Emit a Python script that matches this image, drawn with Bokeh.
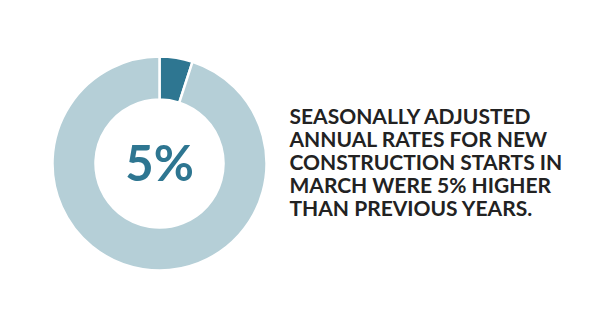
import math
from bokeh.plotting import figure
from bokeh.models import Range1d, ColumnDataSource
from bokeh.core.properties import value
from bokeh.embed import file_html
from bokeh.resources import INLINE

categories = ["Higher", "Rest"]
shares = [5, 95]
slice_colors = ["#2E7691", "#B5CFD7"]
center_label = "5%"
caption_lines = [
    "SEASONALLY ADJUSTED",
    "ANNUAL RATES FOR NEW",
    "CONSTRUCTION STARTS IN",
    "MARCH WERE 5% HIGHER",
    "THAN PREVIOUS YEARS.",
]

W, H = 600, 315
p = figure(width=W, height=H, output_backend="svg", toolbar_location=None,
           x_range=Range1d(0, W), y_range=Range1d(0, H), min_border=0)
p.axis.visible = False
p.grid.visible = False
p.outline_line_color = None
p.background_fill_color = "white"
p.border_fill_color = "white"

total = sum(shares)
starts, ends = [], []
acc = 0
for s in shares:
    a0 = math.pi / 2 - 2 * math.pi * acc / total
    acc += s
    a1 = math.pi / 2 - 2 * math.pi * acc / total
    starts.append(a0)
    ends.append(a1)

cx, cy = 159, H - 163
src = ColumnDataSource(dict(cat=categories, start=starts, end=ends, color=slice_colors,
                            x=[cx] * len(categories), y=[cy] * len(categories)))
p.annular_wedge(x="x", y="y", inner_radius=64, outer_radius=107,
                start_angle="start", end_angle="end", direction="clock",
                fill_color="color", line_color="white", line_width=2.5, source=src)

p.text(x=[cx], y=[cy + 2], text=[center_label], text_align="center", text_baseline="middle",
       text_font=value("Lato"), text_font_size="49px", text_color="#2E7691",
       text_font_style="bold")

tops = [102 + 23 * i for i in range(len(caption_lines))]
p.text(x=[289] * len(caption_lines), y=[H - t for t in tops], text=caption_lines,
       text_align="left", text_baseline="top", text_font=value("Lato"),
       text_font_size="21px", text_font_style="bold", text_color="#222222",
       text_line_height=1.0)

open("out.html", "w").write(file_html(p, INLINE))
